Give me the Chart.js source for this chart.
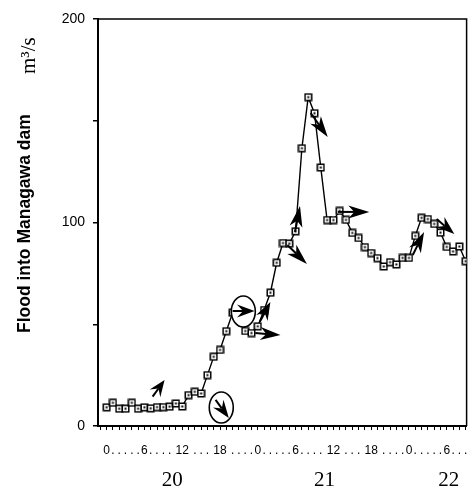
<!DOCTYPE html>
<html>
<head>
<meta charset="utf-8">
<script src="https://cdn.jsdelivr.net/npm/chart.js@4.4.1/dist/chart.umd.min.js"></script>
<style>
  html, body { margin: 0; padding: 0; background: #fff; }
</style>
</head>
<body>
<canvas id="grafico" width="472" height="490"></canvas>
<script>
// hours counted from day 20, 0:00
const hours = [0, 1, 2, 3, 4, 5, 6, 7, 8, 9, 10, 11, 12, 13, 14, 15, 16, 17, 18, 19,
  20, 21, 22, 23, 24, 25, 26, 27, 28, 29, 30, 31, 32, 33, 34, 35, 36, 37, 38, 39,
  40, 41, 42, 43, 44, 45, 46, 47, 48, 49, 50, 51, 52, 53, 54, 55, 56, 57];
const flow = [9.2, 11.4, 8.5, 8.5, 11.4, 8.5, 9.2, 8.7, 9.3, 9.3, 9.5, 11.1, 9.6, 15.2, 16.8, 16.0, 25, 34, 37.4, 46.6,
  55.7, 57, 46.7, 45.7, 49, 57, 65.5, 80.2, 89.9, 89.6, 95.7, 136.5, 161.6, 153.7, 127, 101.2, 101.2, 105.7, 101.3, 94.9,
  92.4, 87.9, 85, 82.5, 78.4, 80.5, 79.4, 82.6, 82.6, 93.4, 102.3, 101.7, 99.3, 95, 88, 85.8, 88.2, 81];

const dayLabels = ['20', '21', '22'];
const yTitle = 'Flood into Managawa dam';
const yUnit = 'm\u00b3/s';

// wind arrows, [hour, value] of tail and head
const arrowFrom = [[7.3, 14.4], [17.3, 12.8], [20.0, 56.5], [24.3, 51.1], [23.6, 45.7], [29.9, 95.3],
  [28.7, 88.9], [32.4, 153.8], [36.7, 105.2], [48.6, 84.0], [52.4, 101.7]];
const arrowTo = [[9.2, 22.6], [19.4, 3.9], [23.5, 56.5], [26.0, 60.9], [27.6, 44.7], [30.7, 108.1],
  [31.8, 79.6], [35.1, 142.0], [41.7, 105.2], [50.4, 95.3], [55.2, 94.3]];
// circled arrows
const circleAt = [[18.2, 9.1], [21.7, 56.3]];

const canvas = document.getElementById('grafico');

// open square with a dot inside
const marker = document.createElement('canvas');
marker.width = 9;
marker.height = 9;
(function () {
  const g = marker.getContext('2d');
  g.fillStyle = '#fff';
  g.fillRect(1, 1, 7, 7);
  g.strokeStyle = '#000';
  g.lineWidth = 1.5;
  g.strokeRect(1.25, 1.25, 6.5, 6.5);
  g.fillStyle = '#000';
  g.fillRect(3.5, 3.5, 2, 2);
})();

function hourText(h) {
  if (h < 0) return '';
  const hh = h % 24;
  if (hh % 6 === 0) return String(hh);
  if (hh === 11 || hh === 13 || hh === 17 || hh === 19) return '';
  return '.';
}

function drawArrow(ctx, x0, y0, x1, y1) {
  const dx = x1 - x0, dy = y1 - y0;
  const len = Math.hypot(dx, dy);
  const ux = dx / len, uy = dy / len;
  const nx = -uy, ny = ux;
  const L = Math.min(21, len * 0.8), W = 6.5;
  const bx = x1 - ux * L, by = y1 - uy * L;
  const kx = x1 - ux * (L - 6), ky = y1 - uy * (L - 6);
  ctx.beginPath();
  ctx.moveTo(x0, y0);
  ctx.lineTo(kx, ky);
  ctx.stroke();
  ctx.beginPath();
  ctx.moveTo(x1, y1);
  ctx.lineTo(bx + nx * W, by + ny * W);
  ctx.lineTo(kx, ky);
  ctx.lineTo(bx - nx * W, by - ny * W);
  ctx.closePath();
  ctx.fill();
}

// no extra room on the sides for the end tick labels
function noSidePadding(s) {
  s.paddingLeft = 0;
  s.paddingRight = 0;
}

const framePlugin = {
  id: 'frame',
  beforeDatasetsDraw(chart) {
    const { ctx, chartArea: a } = chart;
    ctx.save();
    ctx.strokeStyle = '#000';
    ctx.lineWidth = 1.5;
    ctx.beginPath();
    ctx.moveTo(a.left, a.top);
    ctx.lineTo(a.right, a.top);
    ctx.lineTo(a.right, a.bottom);
    ctx.stroke();
    ctx.restore();
  }
};

const arrowPlugin = {
  id: 'arrows',
  afterDatasetsDraw(chart) {
    const { ctx, scales: { x, y } } = chart;
    ctx.save();
    ctx.strokeStyle = '#000';
    ctx.lineWidth = 1.6;
    circleAt.forEach(([h, v]) => {
      ctx.beginPath();
      ctx.ellipse(x.getPixelForValue(h), y.getPixelForValue(v), 12, 15.5, 0, 0, Math.PI * 2);
      ctx.fillStyle = '#fff';
      ctx.fill();
      ctx.stroke();
    });
    ctx.fillStyle = '#000';
    ctx.lineWidth = 2;
    arrowFrom.forEach((from, i) => {
      const to = arrowTo[i];
      drawArrow(ctx,
        x.getPixelForValue(from[0]), y.getPixelForValue(from[1]),
        x.getPixelForValue(to[0]), y.getPixelForValue(to[1]));
    });
    ctx.restore();
  }
};

const yTitlePlugin = {
  id: 'yTitle',
  afterDraw(chart) {
    const { ctx, chartArea: a } = chart;
    ctx.save();
    ctx.fillStyle = '#000';
    ctx.textBaseline = 'middle';
    ctx.textAlign = 'left';
    ctx.translate(25, a.bottom - 93);
    ctx.rotate(-Math.PI / 2);
    ctx.font = 'bold 17.5px "Liberation Sans", Arial, sans-serif';
    ctx.fillText(yTitle, 0, 0);
    ctx.restore();

    ctx.save();
    ctx.fillStyle = '#000';
    ctx.textBaseline = 'middle';
    ctx.textAlign = 'left';
    ctx.translate(29, a.top + 55);
    ctx.rotate(-Math.PI / 2);
    ctx.font = '21px "Liberation Serif", "Times New Roman", serif';
    ctx.fillText(yUnit, 0, 0);
    ctx.restore();
  }
};

const xMin = -1.37, xMax = 57.15;

new Chart(canvas, {
  type: 'line',
  data: {
    datasets: [{
      data: hours.map((h, i) => ({ x: h, y: flow[i] })),
      borderColor: '#000',
      borderWidth: 1.4,
      pointStyle: marker,
      tension: 0
    }]
  },
  options: {
    responsive: false,
    animation: false,
    devicePixelRatio: 1,
    layout: { padding: { left: 38, right: -2, top: 19, bottom: 0 } },
    plugins: {
      legend: { display: false },
      tooltip: { enabled: false }
    },
    scales: {
      x: {
        type: 'linear',
        min: xMin,
        max: xMax,
        afterBuildTicks: s => { s.ticks = [-1, ...hours].map(v => ({ value: v })); },
        afterFit: s => { s.height = 34; noSidePadding(s); },
        ticks: {
          autoSkip: false,
          maxRotation: 0,
          padding: 13,
          color: '#000',
          font: { family: '"Liberation Sans", Arial, sans-serif', size: 12 },
          callback: v => hourText(v)
        },
        grid: { drawOnChartArea: false, tickLength: 4, color: '#000', lineWidth: 1 },
        border: { color: '#000', width: 2 }
      },
      xDay: {
        type: 'linear',
        position: 'bottom',
        min: xMin,
        max: xMax,
        afterBuildTicks: s => { s.ticks = [10.4, 34.6, 54.3].map(v => ({ value: v })); },
        afterFit: s => { s.height = 30; noSidePadding(s); },
        ticks: {
          autoSkip: false,
          maxRotation: 0,
          padding: 0,
          color: '#000',
          font: { family: '"Liberation Serif", "Times New Roman", serif', size: 21 },
          callback: (v, i) => dayLabels[i]
        },
        grid: { display: false },
        border: { display: false }
      },
      y: {
        min: 0,
        max: 200,
        afterFit: s => { s.width = 60; },
        ticks: {
          stepSize: 50,
          padding: 8,
          color: '#000',
          font: { family: '"Liberation Sans", Arial, sans-serif', size: 14 },
          callback: v => (v % 100 === 0 ? v : '')
        },
        grid: { drawOnChartArea: false, tickLength: 5, color: '#000', lineWidth: 1.5 },
        border: { color: '#000', width: 2 }
      }
    }
  },
  plugins: [framePlugin, arrowPlugin, yTitlePlugin]
});
</script>
</body>
</html>
